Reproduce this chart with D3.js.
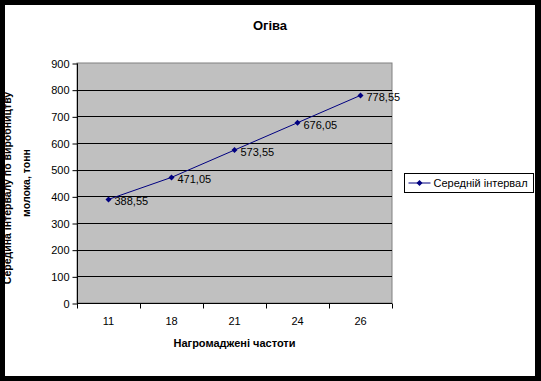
<!DOCTYPE html>
<html>
<head>
<meta charset="utf-8">
<script src="https://cdn.jsdelivr.net/npm/d3@7"></script>
<style>
  html, body { margin: 0; padding: 0; background: #000; }
  svg { display: block; font-family: "Liberation Sans", Arial, sans-serif; }
</style>
</head>
<body>
<svg id="chart" width="541" height="381"></svg>
<script>
// Огіва — cumulative frequency chart
var categories = ["11", "18", "21", "24", "26"];
var values = [388.55, 471.05, 573.55, 676.05, 778.55];
var valueLabels = ["388,55", "471,05", "573,55", "676,05", "778,55"];
var yTicks = [0, 100, 200, 300, 400, 500, 600, 700, 800, 900];
var seriesName = "Середній інтервал";

(function () {
  "use strict";

  var svg = d3.select("#chart");
  var W = 541, H = 381;
  var plot = { left: 77, top: 63, right: 392, bottom: 303 };

  // white page inside black frame
  svg.append("rect").attr("x", 0).attr("y", 0).attr("width", W).attr("height", H).attr("fill", "#000");
  svg.append("rect").attr("x", 5).attr("y", 5).attr("width", 530).attr("height", 371).attr("fill", "#fff");

  var x = d3.scaleBand().domain(categories).range([plot.left, plot.right]).padding(0);
  var y = d3.scaleLinear().domain([0, 900]).range([plot.bottom, plot.top]);

  // --- Plot area ---
  svg.append("rect")
    .attr("x", plot.left).attr("y", plot.top)
    .attr("width", plot.right - plot.left).attr("height", plot.bottom - plot.top)
    .attr("fill", "#c0c0c0").attr("stroke", "#808080").attr("stroke-width", 1);

  // gridlines
  svg.append("g").selectAll("line")
    .data(yTicks.filter(function (d) { return d > 0 && d < 900; }))
    .join("line")
    .attr("x1", plot.left).attr("x2", plot.right)
    .attr("y1", function (d) { return Math.round(y(d)) + 0.5; })
    .attr("y2", function (d) { return Math.round(y(d)) + 0.5; })
    .attr("stroke", "#000").attr("stroke-width", 1);

  // --- Axes ---
  var yAxis = d3.axisLeft(y).tickValues(yTicks).tickSize(5).tickPadding(3);
  var gy = svg.append("g").attr("transform", "translate(" + (plot.left + 0.5) + ",0.5)").call(yAxis);
  gy.select(".domain").attr("d", "M0," + plot.top + "V" + plot.bottom);
  gy.selectAll("text").attr("font-size", "11px").attr("fill", "#000")
    .attr("font-family", "Liberation Sans, Arial, sans-serif");

  var xAxis = d3.axisBottom(x).tickSize(0).tickPadding(14);
  var gx = svg.append("g").attr("transform", "translate(0," + (plot.bottom + 0.5) + ")").call(xAxis);
  gx.select(".domain").attr("d", "M" + plot.left + ",0H" + plot.right);
  gx.selectAll("text").attr("font-size", "11px").attr("fill", "#000")
    .attr("font-family", "Liberation Sans, Arial, sans-serif");
  // category boundary ticks
  var bounds = categories.map(function (c) { return x(c); }).concat([plot.right]);
  gx.selectAll("line.bound").data(bounds).join("line").attr("class", "bound")
    .attr("x1", function (d) { return Math.round(d) + 0.5; })
    .attr("x2", function (d) { return Math.round(d) + 0.5; })
    .attr("y1", 0).attr("y2", 5).attr("stroke", "#000");

  // --- Series ---
  var pts = values.map(function (v, i) {
    return [x(categories[i]) + x.bandwidth() / 2, y(v)];
  });
  svg.append("path")
    .attr("d", d3.line()(pts))
    .attr("fill", "none").attr("stroke", "#000080").attr("stroke-width", 1);

  var diamond = "M0,-3L3,0L0,3L-3,0Z";
  svg.append("g").selectAll("path").data(pts).join("path")
    .attr("transform", function (d) { return "translate(" + d[0] + "," + d[1] + ")"; })
    .attr("d", diamond).attr("fill", "#000080");

  svg.append("g").selectAll("text").data(pts).join("text")
    .attr("x", function (d) { return d[0] + 6; })
    .attr("y", function (d) { return d[1] + 6; })
    .attr("font-size", "11px").attr("fill", "#000")
    .text(function (d, i) { return valueLabels[i]; });

  // --- Titles ---
  svg.append("text").attr("x", 270).attr("y", 30).attr("text-anchor", "middle")
    .attr("font-size", "13px").attr("font-weight", "bold").text("Огіва");

  svg.append("text").attr("x", (plot.left + plot.right) / 2).attr("y", 347)
    .attr("text-anchor", "middle").attr("font-size", "11px").attr("font-weight", "bold")
    .text("Нагромаджені частоти");

  // y title: first line runs into the frame and gets cut, as in the original
  var yt = svg.append("text")
    .attr("transform", "translate(0," + ((plot.top + plot.bottom) / 2) + ") rotate(-90)")
    .attr("text-anchor", "middle").attr("font-size", "10.5px").attr("font-weight", "bold");
  yt.append("tspan").attr("x", -5).attr("y", 10.5).text("Середина інтервалу по виробництву");
  yt.append("tspan").attr("x", 0).attr("y", 30).text("молока, тонн");

  // --- Legend ---
  var lg = svg.append("g").attr("transform", "translate(404.5,173.5)");
  lg.append("rect").attr("width", 129).attr("height", 19).attr("fill", "#fff").attr("stroke", "#000");
  lg.append("line").attr("x1", 4).attr("x2", 26).attr("y1", 9.5).attr("y2", 9.5).attr("stroke", "#000080");
  lg.append("path").attr("transform", "translate(15,9.5)").attr("d", diamond).attr("fill", "#000080");
  lg.append("text").attr("x", 29).attr("y", 13.5).attr("font-size", "11px").text(seriesName);

  // black frame drawn last so it clips the edges
  svg.append("path")
    .attr("fill-rule", "evenodd").attr("fill", "#000")
    .attr("d", "M0,0H" + W + "V" + H + "H0Z M5,5V376H535V5Z");
})();
</script>
</body>
</html>
